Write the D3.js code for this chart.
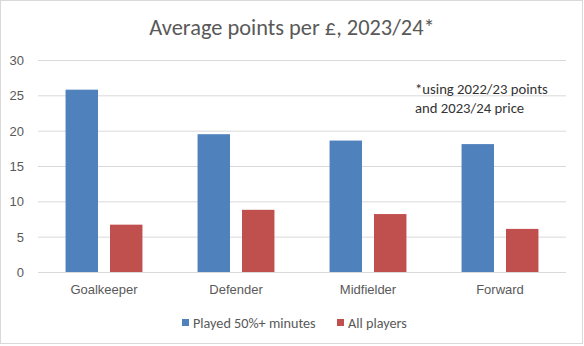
<!DOCTYPE html>
<html>
<head>
<meta charset="utf-8">
<script src="https://cdn.jsdelivr.net/npm/d3@7"></script>
<style>
  html, body { margin: 0; padding: 0; background: #fff; }
  svg { display: block; font-family: Carlito, Calibri, Lato, "Open Sans", sans-serif; }
</style>
</head>
<body>
<svg id="chart" width="584" height="346"></svg>
<script>
// Positions and series
const categories = ["Goalkeeper", "Defender", "Midfielder", "Forward"];
const seriesNames = ["Played 50%+ minutes", "All players"];
const played50 = [25.8, 19.5, 18.6, 18.1];
const allPlayers = [6.7, 8.8, 8.2, 6.1];
const yTicks = [0, 5, 10, 15, 20, 25, 30];
const colors = ["#4F81BD", "#C0504D"];

const svg = d3.select("#chart");
const W = 584, H = 346;
const margin = { left: 38, right: 18, top: 60, bottom: 74 };

// chart frame
svg.append("rect")
  .attr("x", 0.5).attr("y", 0.5)
  .attr("width", W - 2).attr("height", H - 3)
  .attr("fill", "#fff").attr("stroke", "#d9d9d9");

const x = d3.scaleBand()
  .domain(categories)
  .range([margin.left, W - margin.right])
  .paddingInner(0).paddingOuter(0);

const x1 = d3.scaleBand()
  .domain(seriesNames)
  .range([0, x.bandwidth()])
  .paddingInner(0.27).paddingOuter(0.62);

const y = d3.scaleLinear()
  .domain([0, 30])
  .range([H - margin.bottom, margin.top]);

// gridlines
const yAxis = d3.axisLeft(y).tickValues(yTicks).tickSize(-(W - margin.left - margin.right)).tickPadding(14);
const gy = svg.append("g")
  .attr("transform", `translate(${margin.left},0)`)
  .call(yAxis);
gy.select(".domain").remove();
gy.selectAll(".tick line").attr("stroke", "#d9d9d9").attr("stroke-width", 1);
gy.selectAll(".tick text")
  .attr("fill", "#595959")
  .style("font-size", "13px")
  .attr("dy", "0.35em");

// bars
const rows = categories.map((c, i) => ({ cat: c, vals: [played50[i], allPlayers[i]] }));
const groups = svg.append("g").selectAll("g")
  .data(rows).join("g")
  .attr("transform", d => `translate(${x(d.cat)},0)`);

groups.selectAll("rect")
  .data(d => d.vals.map((v, j) => ({ name: seriesNames[j], v, j })))
  .join("rect")
  .attr("x", d => x1(d.name))
  .attr("width", x1.bandwidth())
  .attr("y", d => y(d.v))
  .attr("height", d => y(0) - y(d.v))
  .attr("fill", d => colors[d.j]);

// baseline
svg.append("line")
  .attr("x1", margin.left).attr("x2", W - margin.right)
  .attr("y1", y(0) + 0.5).attr("y2", y(0) + 0.5)
  .attr("stroke", "#d9d9d9");

// category axis labels
const xAxis = d3.axisBottom(x).tickSize(0).tickPadding(13);
const gx = svg.append("g")
  .attr("transform", `translate(0,${y(0)})`)
  .call(xAxis);
gx.select(".domain").remove();
gx.selectAll(".tick text")
  .attr("fill", "#595959")
  .style("font-size", "13px");

// title
svg.append("text")
  .attr("x", 292).attr("y", 35)
  .attr("text-anchor", "middle")
  .attr("fill", "#595959")
  .style("font-size", "22.4px")
  .text("Average points per £, 2023/24*");

// note
const note = svg.append("text")
  .attr("x", 415).attr("y", 94)
  .attr("fill", "#333")
  .style("font-size", "14.7px");
note.append("tspan").attr("x", 415).text("*using 2022/23 points");
note.append("tspan").attr("x", 415).attr("dy", 19).text("and 2023/24 price");

// legend
const legendItems = [
  { name: seriesNames[0], color: colors[0], x: 182 },
  { name: seriesNames[1], color: colors[1], x: 337 }
];
const lg = svg.append("g").selectAll("g")
  .data(legendItems).join("g")
  .attr("transform", d => `translate(${d.x},323)`);
lg.append("rect")
  .attr("x", 0).attr("y", -4).attr("width", 7).attr("height", 7)
  .attr("fill", d => d.color);
lg.append("text")
  .attr("x", 11).attr("y", 0).attr("dy", "0.35em")
  .attr("fill", "#595959")
  .style("font-size", "14.2px")
  .text(d => d.name);
</script>
</body>
</html>
